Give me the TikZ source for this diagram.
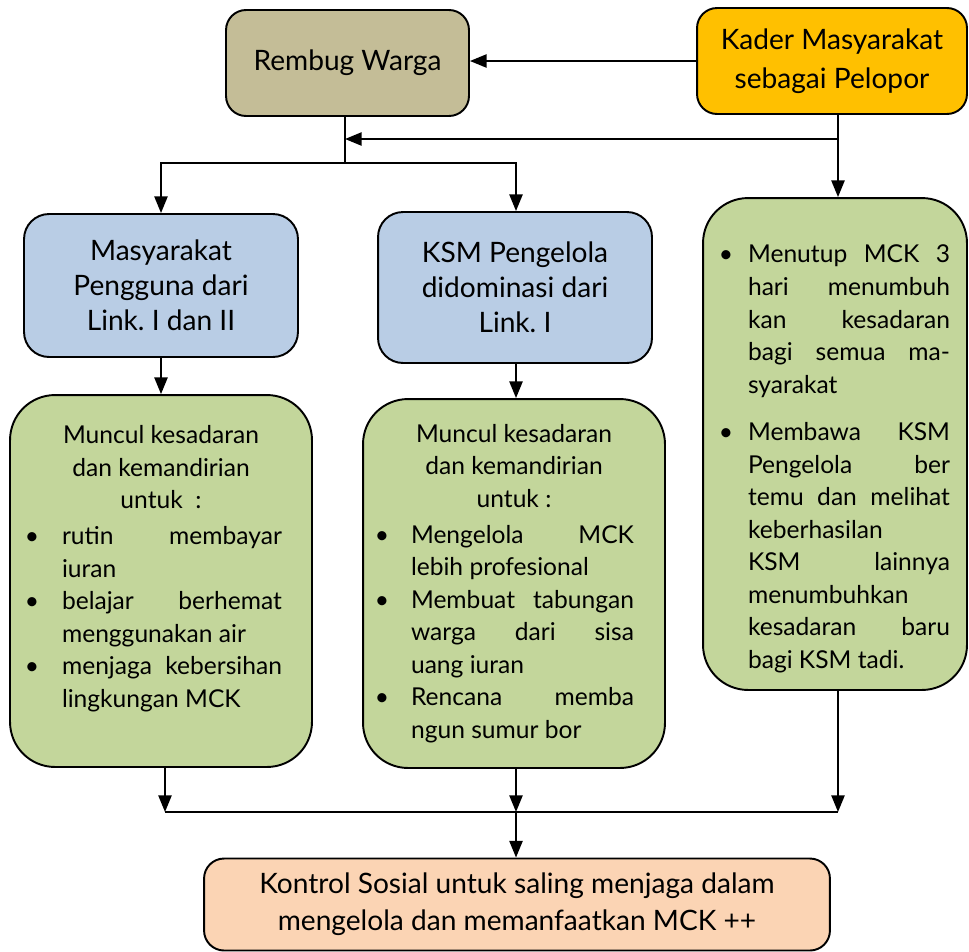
\documentclass[tikz,border=0pt]{standalone}
\usepackage{fontspec}
\setmainfont{Lato}
\usepackage{enumitem}
\usetikzlibrary{arrows.meta,positioning}

\definecolor{tanfill}{HTML}{C4BD97}
\definecolor{goldfill}{HTML}{FFC000}
\definecolor{bluefill}{HTML}{B9CDE5}
\definecolor{greenfill}{HTML}{C3D69B}
\definecolor{peachfill}{HTML}{FBD4B4}

\setlist[itemize]{label=\textbullet,topsep=0pt,partopsep=0pt,parsep=0pt,itemsep=0pt}
\hyphenpenalty=10000
\emergencystretch=3em
\frenchspacing

\tikzset{
  box/.style={draw=black,line width=1.1pt,rounded corners=0.4cm,align=center,
    font=\fontsize{16}{20}\selectfont},
  bluebox/.style={box,fill=bluefill,rounded corners=0.5cm,minimum width=5.48cm},
  greenbox/.style={draw=black,line width=1.1pt,fill=greenfill,rounded corners=0.9cm,
    align=justify,font=\fontsize{14}{18.5}\selectfont},
  line/.style={line width=1.1pt},
  arr/.style={line,-{Triangle[length=9.5pt,width=7.5pt]}}
}

\begin{document}
\begin{tikzpicture}[x=0.02cm,y=-0.02cm]
\useasboundingbox (0,0) rectangle (969,951);

% top row
\node[box,fill=tanfill,minimum width=4.86cm,minimum height=2.12cm] (rembug) at (347.5,63) {Rembug Warga};
\node[box,fill=goldfill,minimum width=5.40cm,minimum height=2.12cm] (kader) at (832,61)
  {Kader Masyarakat\\[2pt]sebagai Pelopor};

% second row
\node[bluebox,minimum height=2.86cm] (masy) at (161,285.5) {Masyarakat\\Pengguna dari\\Link. I dan II};
\node[bluebox,minimum height=3.02cm] (ksm) at (515,287.5) {KSM Pengelola\\didominasi dari\\Link. I};

% green boxes
\node[greenbox,text width=5.24cm,inner xsep=0.4cm,minimum height=7.44cm] (muncul1) at (161,581) {%
  {\centering Muncul kesadaran\\ dan kemandirian\\ untuk~ :\par}
  \vspace{2pt}
  \begin{itemize}[leftmargin=0.64cm,labelsep=0.46cm,rightmargin=0.2cm]
    \item rutin membayar\linebreak iuran
    \item belajar berhemat\linebreak menggunakan air
    \item menjaga kebersihan\linebreak lingkungan MCK
  \end{itemize}
  \vspace*{0.5cm}\hrule height 0pt width 0pt};
\node[greenbox,text width=5.48cm,inner xsep=0.28cm,minimum height=7.38cm] (muncul2) at (514,583.5) {%
  {\centering Muncul kesadaran\\ dan kemandirian\\ untuk :\par}
  \vspace{2pt}
  \begin{itemize}[leftmargin=0.68cm,labelsep=0.44cm,rightmargin=0.34cm]
    \item Mengelola MCK\linebreak lebih profesional
    \item Membuat tabungan\linebreak warga dari sisa\linebreak uang iuran
    \item Rencana memba\linebreak ngun sumur bor
  \end{itemize}};
\node[greenbox,text width=4.6cm,inner xsep=0.34cm,minimum height=9.84cm] (menutup) at (835,444) {%
  \vspace*{0.3cm}
  \begin{itemize}[leftmargin=0.56cm,labelsep=0.3cm,itemsep=0.3cm]
    \item Menutup MCK 3\linebreak hari menumbuh\linebreak kan kesadaran\linebreak
      bagi semua ma-\linebreak syarakat
    \item Membawa KSM\linebreak Pengelola ber\linebreak temu dan melihat\linebreak
      keberhasilan\\ KSM lainnya\linebreak menumbuhkan\\ kesadaran baru\linebreak bagi KSM tadi.
  \end{itemize}};

% bottom
\node[box,fill=peachfill,minimum width=12.52cm,minimum height=1.84cm] (kontrol) at (517,904.5)
  {Kontrol Sosial untuk saling menjaga dalam\\[1pt]mengelola dan memanfaatkan MCK ++};

% junctions
\coordinate (split) at (345,163);
\coordinate (join) at (345,139);
\coordinate (kturn) at (838,139);
\coordinate (b1) at (165,812);
\coordinate (b2) at (516,812);
\coordinate (b3) at (838,812);

% connectors
\draw[arr] (kader.west) -- (kader.west -| rembug.east);
\draw[line] (rembug.south -| split) -- (split);
\draw[arr] (split) -| (masy.north);
\draw[arr] (split) -| (ksm.north -| b2);
\draw[line] (kader.south -| kturn) -- (kturn);
\draw[arr] (kturn) -- (join);
\draw[arr] (kturn) -- (menutup.north -| kturn);
\draw[arr] (masy.south) -- (muncul1.north -| masy.south);
\draw[arr] (ksm.south -| b2) -- (muncul2.north -| b2);
\draw[arr] (muncul1.south -| b1) -- (b1);
\draw[arr] (muncul2.south -| b2) -- (b2);
\draw[arr] (menutup.south -| b3) -- (b3);
\draw[line] (b1) -- (b3);
\draw[arr] (b2) -- (kontrol.north -| b2);

\end{tikzpicture}
\end{document}
